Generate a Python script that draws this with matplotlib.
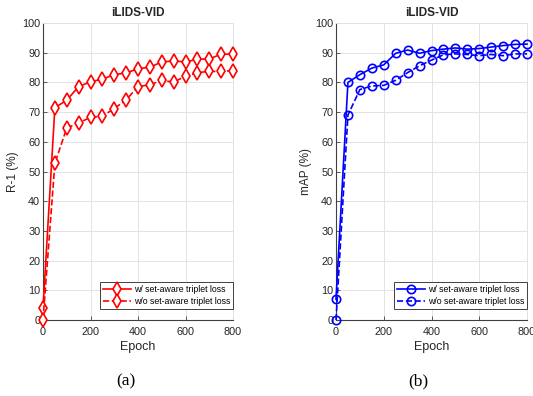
import matplotlib
matplotlib.use("Agg")
import matplotlib.pyplot as plt

epochs = [0, 50, 100, 150, 200, 250, 300, 350, 400, 450, 500, 550, 600, 650, 700, 750, 800]
r1_with = [4.0, 71.5, 74.0, 78.6, 80.2, 81.1, 82.6, 83.2, 84.6, 85.1, 86.9, 87.2, 86.9, 87.8, 87.9, 89.5, 89.5]
r1_without = [0.0, 52.8, 64.6, 66.4, 68.2, 68.6, 71.2, 74.1, 78.6, 79.2, 80.7, 80.1, 82.1, 83.3, 83.7, 83.7, 84.0]
map_with = [7.0, 80.0, 82.6, 84.8, 85.9, 89.8, 90.9, 89.8, 90.7, 91.2, 91.6, 91.2, 91.4, 91.9, 92.4, 92.8, 92.9]
map_without = [0.0, 69.0, 77.6, 78.8, 79.0, 80.7, 83.3, 85.6, 87.5, 89.3, 89.6, 89.4, 89.0, 89.4, 89.0, 89.6, 89.6]

title = "iLIDS-VID"
legend_labels = ["w/ set-aware triplet loss", "w/o set-aware triplet loss"]
xticks = [0, 200, 400, 600, 800]
yticks = list(range(0, 101, 10))

plt.rcParams['font.family'] = ['Liberation Sans', 'DejaVu Sans']

fig = plt.figure(figsize=(5.33, 3.96), dpi=100)
W, H = 533, 396

def make_ax(x0, x1, y0, y1):
    return fig.add_axes([x0 / W, 1 - y1 / H, (x1 - x0) / W, (y1 - y0) / H])

axL = make_ax(43, 233, 23, 320)
axR = make_ax(336, 527, 23, 320)

def style(ax, ylabel):
    ax.set_xlim(0, 800)
    ax.set_ylim(0, 100)
    ax.set_xticks(xticks)
    ax.set_yticks(yticks)
    ax.grid(True, color='#e3e3e3', linewidth=0.7)
    ax.set_axisbelow(True)
    for k, s in ax.spines.items():
        if k in ('left', 'bottom'):
            s.set_color('#404040')
            s.set_linewidth(0.8)
        else:
            s.set_color('#e3e3e3')
            s.set_linewidth(0.7)
    ax.tick_params(direction='in', length=3, width=0.6, colors='#404040',
                   labelsize=7.8, labelcolor='#262626')
    ax.tick_params(axis='x', pad=5)
    ax.tick_params(axis='y', pad=2)
    ax.set_title(title, fontsize=8.5, fontweight='bold', color='#262626', pad=5)
    ax.set_xlabel("Epoch", fontsize=9, color='#262626', labelpad=3)
    ax.set_ylabel(ylabel, fontsize=8.5, color='#262626', labelpad=2)

def add_legend(ax):
    leg = ax.legend(loc='lower right', bbox_to_anchor=(1.0, 11 / 297), fontsize=6.3,
                    frameon=True, fancybox=False, edgecolor='#404040', borderpad=0.35,
                    handlelength=3.2, labelspacing=0.35, borderaxespad=0.0,
                    handletextpad=0.3)
    leg.get_frame().set_linewidth(0.7)
    leg.get_frame().set_alpha(1)

lw = 1.2
# Left panel
axL.plot(epochs, r1_with, '-', color='#ff0000', marker='d', markersize=7.5,
         markerfacecolor='white', markeredgewidth=1.2, linewidth=lw,
         label=legend_labels[0], clip_on=False, zorder=3)
axL.plot(epochs, r1_without, '--', color='#ff0000', marker='d', markersize=7.5,
         markerfacecolor='white', markeredgewidth=1.2, linewidth=lw,
         label=legend_labels[1], clip_on=False, zorder=3)
style(axL, "R-1 (%)")
add_legend(axL)

# Right panel
axR.plot(epochs, map_with, '-', color='#0000ff', marker='o', markersize=6,
         markerfacecolor='none', markeredgewidth=1.2, linewidth=lw,
         label=legend_labels[0], clip_on=False, zorder=3)
axR.plot(epochs, map_without, '--', color='#0000ff', marker='o', markersize=6,
         markerfacecolor='none', markeredgewidth=1.2, linewidth=lw,
         label=legend_labels[1], clip_on=False, zorder=3)
style(axR, "mAP (%)")
add_legend(axR)

fig.text(126 / W, 1 - 381 / H, "(a)", fontsize=12.5, family=['Liberation Serif', 'DejaVu Serif'],
         ha='center', va='center')
fig.text(418 / W, 1 - 381 / H, "(b)", fontsize=12.5, family=['Liberation Serif', 'DejaVu Serif'],
         ha='center', va='center')

fig.savefig("out.png", dpi=100)
